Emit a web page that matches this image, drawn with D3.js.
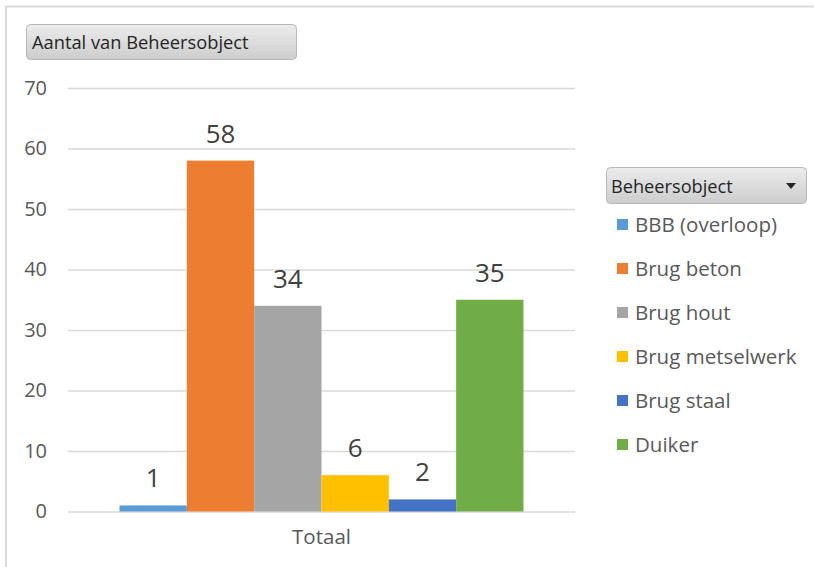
<!DOCTYPE html>
<html><head><meta charset="utf-8">
<script src="https://cdn.jsdelivr.net/npm/d3@7"></script>
<style>body{margin:0;background:#fff}svg{display:block}</style>
</head><body>
<svg id="c" width="814" height="567"></svg>
<script>
const categories = ["Totaal"];
const series = ["BBB (overloop)", "Brug beton", "Brug hout", "Brug metselwerk", "Brug staal", "Duiker"];
const values = [1, 58, 34, 6, 2, 35];
const colors = ["#5b9bd5", "#ed7d31", "#a5a5a5", "#ffc000", "#4472c4", "#70ad47"];
const yTicks = [0, 10, 20, 30, 40, 50, 60, 70];
const titleText = "Aantal van Beheersobject";
const legendTitle = "Beheersobject";

(function(){
const font = "'Open Sans', 'Segoe UI', sans-serif";
const svg = d3.select("#c");
const defs = svg.append("defs");
const g = defs.append("linearGradient").attr("id","btn").attr("x1",0).attr("y1",0).attr("x2",0).attr("y2",1);
g.append("stop").attr("offset","0%").attr("stop-color","#ececec");
g.append("stop").attr("offset","100%").attr("stop-color","#cdcdcd");

// outer frame
svg.append("rect").attr("x",6).attr("y",6.5).attr("width",830).attr("height",600)
  .attr("fill","none").attr("stroke","#d9d9d9").attr("stroke-width",2);

const pL = 68, pR = 575, pT = 88, pB = 511.5;
const y = d3.scaleLinear().domain([0,70]).range([pB, pT]);
const x0 = d3.scaleBand().domain(categories).range([pL, pR]);
const x1 = d3.scaleBand().domain(series).range([0, x0.bandwidth()]).paddingOuter(0.765).paddingInner(0);

// gridlines + y labels via axis
const yAxis = d3.axisLeft(y).tickValues(yTicks).tickSize(-(pR-pL)).tickPadding(21);
const ya = svg.append("g").attr("transform",`translate(${pL},0)`).call(yAxis);
ya.select(".domain").remove();
ya.selectAll(".tick line").attr("stroke","#d9d9d9").attr("stroke-width",1.3);
ya.selectAll(".tick text").attr("fill","#595959").style("font-family",font).style("font-size","20px");

// bars
const grp = svg.append("g");
categories.forEach(cat => {
  series.forEach((s,i) => {
    grp.append("rect")
      .attr("x", x0(cat) + x1(s))
      .attr("y", y(values[i]))
      .attr("width", x1.bandwidth())
      .attr("height", y(0) - y(values[i]))
      .attr("fill", colors[i]);
    grp.append("text")
      .attr("x", x0(cat) + x1(s) + x1.bandwidth()/2)
      .attr("y", y(values[i]) - 18)
      .attr("text-anchor","middle")
      .attr("fill","#404040")
      .style("font-family",font).style("font-size","26px")
      .text(values[i]);
  });
});

// x axis category labels
const xAxis = d3.axisBottom(x0).tickSize(0).tickPadding(18);
const xa = svg.append("g").attr("transform",`translate(0,${pB})`).call(xAxis);
xa.select(".domain").remove();
xa.selectAll(".tick text").attr("fill","#595959").style("font-family",font).style("font-size","20.5px");

// title button
svg.append("rect").attr("x",26.5).attr("y",24.5).attr("width",270).attr("height",35).attr("rx",4)
  .attr("fill","url(#btn)").attr("stroke","#b8b8b8");
svg.append("text").attr("x",32).attr("y",49).attr("fill","#262626")
  .style("font-family",font).style("font-size","18.3px").text(titleText);

// legend button
svg.append("rect").attr("x",606.5).attr("y",167.5).attr("width",200).attr("height",36).attr("rx",4)
  .attr("fill","url(#btn)").attr("stroke","#b8b8b8");
svg.append("text").attr("x",611).attr("y",192.5).attr("fill","#262626")
  .style("font-family",font).style("font-size","18.2px").text(legendTitle);
svg.append("path").attr("d","M786,183 L796,183 L791,189 Z").attr("fill","#262626");

// legend items
const leg = d3.scaleBand().domain(series).range([202, 466]);
series.forEach((s,i) => {
  const cy = leg(s) + leg.bandwidth()/2;
  svg.append("rect").attr("x",617).attr("y",cy-5).attr("width",11).attr("height",11).attr("fill",colors[i]);
  svg.append("text").attr("x",635).attr("y",cy+7.5).attr("fill","#595959")
    .style("font-family",font).style("font-size","20.5px").text(s);
});
})();
</script>
</body></html>
